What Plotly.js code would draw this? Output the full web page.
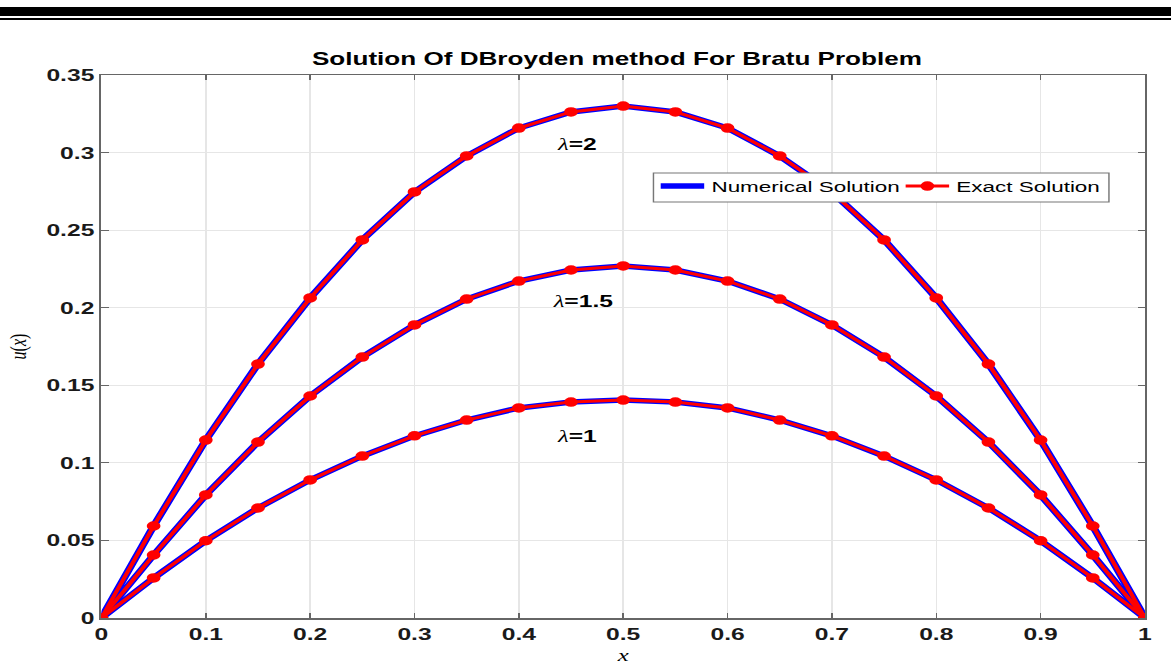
<!DOCTYPE html>
<html>
<head>
<meta charset="utf-8">
<script src="https://cdn.plot.ly/plotly-3.0.1.min.js"></script>
<style>
  html, body { margin: 0; padding: 0; background: #fff; overflow: hidden; }
  #wrap { position: relative; width: 1171px; height: 668px; overflow: hidden; }
  /* the figure is drawn narrower and widened horizontally to fill the page */
  #chart { position: absolute; left: 0; top: 0; width: 808px; height: 668px;
           transform: scale(1.4493, 1); transform-origin: 0 0; }
  .rule-thick { position: absolute; left: 0; top: 7px; width: 1171px; height: 9px; background: #000; z-index: 5; }
  .rule-thin { position: absolute; left: 0; top: 18px; width: 1171px; height: 2px; background: #000; z-index: 5; }
</style>
</head>
<body>
<div id="wrap">
  <div id="chart"></div>
  <div class="rule-thick"></div>
  <div class="rule-thin"></div>
</div>
<script>
// grid points
const xs = [0, 0.05, 0.1, 0.15, 0.2, 0.25, 0.3, 0.35, 0.4, 0.45, 0.5,
            0.55, 0.6, 0.65, 0.7, 0.75, 0.8, 0.85, 0.9, 0.95, 1];

// u(x) for each lambda
const uLambda2 = [0, 0.0593, 0.1147, 0.1637, 0.2063, 0.2437, 0.2746, 0.2978, 0.3158, 0.3262, 0.3300,
                  0.3262, 0.3158, 0.2978, 0.2746, 0.2437, 0.2063, 0.1637, 0.1147, 0.0593, 0];
const uLambda15 = [0, 0.0406, 0.0793, 0.1134, 0.1431, 0.1682, 0.1889, 0.2056, 0.2172, 0.2243, 0.2269,
                   0.2243, 0.2172, 0.2056, 0.1889, 0.1682, 0.1431, 0.1134, 0.0793, 0.0406, 0];
const uLambda1 = [0, 0.0258, 0.0498, 0.0709, 0.0890, 0.1044, 0.1174, 0.1276, 0.1354, 0.1392, 0.1405,
                  0.1392, 0.1354, 0.1276, 0.1174, 0.1044, 0.0890, 0.0709, 0.0498, 0.0258, 0];

const curves = [
  {label: '2', u: uLambda2, lx: 0.456, ly: 0.305},
  {label: '1.5', u: uLambda15, lx: 0.461, ly: 0.2037},
  {label: '1', u: uLambda1, lx: 0.455, ly: 0.1173}
];

const xTicks = [0, 0.1, 0.2, 0.3, 0.4, 0.5, 0.6, 0.7, 0.8, 0.9, 1];
const xTickText = ['0', '0.1', '0.2', '0.3', '0.4', '0.5', '0.6', '0.7', '0.8', '0.9', '1'];
const yTicks = [0, 0.05, 0.1, 0.15, 0.2, 0.25, 0.3, 0.35];
const yTickText = ['0', '0.05', '0.1', '0.15', '0.2', '0.25', '0.3', '0.35'];

const traces = [];
curves.forEach((c, i) => {
  traces.push({
    x: xs, y: c.u, type: 'scatter', mode: 'lines',
    name: 'Numerical Solution', legendgroup: 'num', showlegend: i === 0,
    line: {color: '#0000ff', width: 5.5}
  });
});
curves.forEach((c, i) => {
  traces.push({
    x: xs, y: c.u, type: 'scatter', mode: 'lines+markers',
    name: 'Exact Solution', legendgroup: 'exact', showlegend: i === 0,
    line: {color: '#ff0000', width: 3},
    marker: {color: '#ff0000', size: 9.5, symbol: 'circle'}
  });
});

const annotations = curves.map(c => ({
  x: c.lx, y: c.ly, xref: 'x', yref: 'y', showarrow: false,
  text: '<span style="font-family:Liberation Serif;font-style:italic">λ</span><b>=' + c.label + '</b>',
  font: {family: 'Liberation Sans, Arial', size: 17, color: '#000'}
}));

const tickFont = {family: 'Liberation Sans, Arial', size: 17, color: '#1a1a1a', weight: 'bold'};

const layout = {
  width: 808, height: 668,
  margin: {l: 70, r: 18, t: 75, b: 50, autoexpand: false},
  paper_bgcolor: '#fff', plot_bgcolor: '#fff',
  title: {
    text: '<b>Solution Of DBroyden method For Bratu Problem</b>',
    font: {family: 'Liberation Sans, Arial', size: 18, color: '#000'},
    x: 0.494, xref: 'paper', xanchor: 'center', y: 0.912, yref: 'container', yanchor: 'middle'
  },
  xaxis: {
    range: [0, 1], tickvals: xTicks, ticktext: xTickText, automargin: false,
    showgrid: true, gridcolor: '#e6e6e6', gridwidth: 1,
    ticks: 'inside', ticklen: 5, tickcolor: '#666', mirror: 'ticks',
    showline: true, linecolor: '#666', linewidth: 1.5, zeroline: false,
    tickfont: tickFont,
    title: {text: '<i>x</i>', font: {family: 'Liberation Serif', size: 17, color: '#000'}, standoff: 6}
  },
  yaxis: {
    range: [0, 0.35], tickvals: yTicks, ticktext: yTickText, automargin: false,
    showgrid: true, gridcolor: '#e6e6e6', gridwidth: 1,
    ticks: 'inside', ticklen: 5, tickcolor: '#666', mirror: 'ticks',
    showline: true, linecolor: '#666', linewidth: 1.5, zeroline: false,
    tickfont: tickFont,
    title: {text: '<i>u</i>(<i>x</i>)', font: {family: 'Liberation Serif', size: 16, color: '#000'}, standoff: 9}
  },
  legend: {
    orientation: 'h', x: 0.529, y: 0.826, xanchor: 'left', yanchor: 'top',
    bgcolor: 'rgba(0,0,0,0)', borderwidth: 0,
    font: {family: 'Liberation Sans, Arial', size: 15.5, color: '#000'},
    tracegroupgap: 0, itemwidth: 30,
    entrywidth: 124, entrywidthmode: 'pixels'
  },
  // framed white box behind the legend entries
  shapes: [{
    type: 'rect', xref: 'paper', yref: 'paper', layer: 'above',
    x0: 0.529, x1: 0.9655, y0: 0.766, y1: 0.8195,
    line: {color: '#777', width: 1}, fillcolor: '#ffffff'
  }],
  annotations: annotations,
  showlegend: true
};

Plotly.newPlot('chart', traces, layout, {displayModeBar: false, staticPlot: true});
</script>
</body>
</html>
